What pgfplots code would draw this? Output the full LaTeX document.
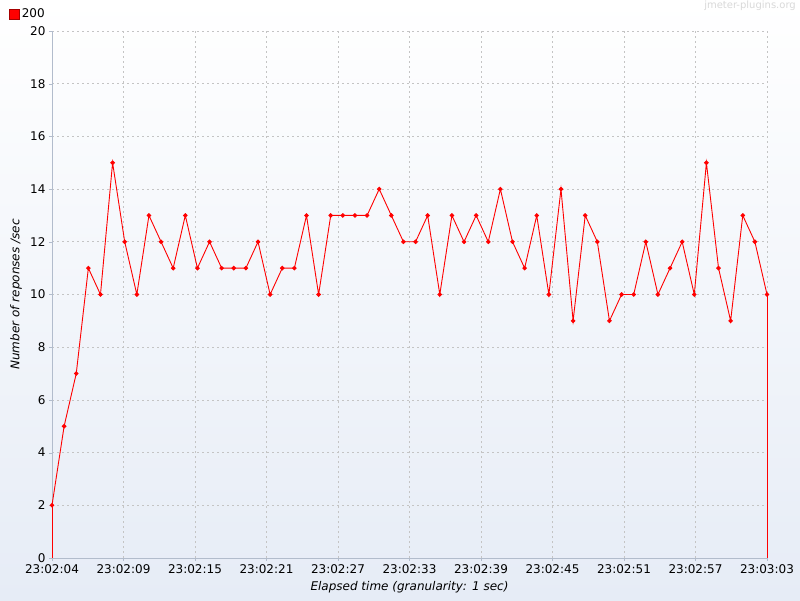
\documentclass[border=0pt]{standalone}
\usepackage{pgfplots}
\pgfplotsset{compat=1.18}
\usepackage{fontspec}
\setmainfont{DejaVu Sans}

\definecolor{bgbottom}{RGB}{230,236,246}
\definecolor{axisgray}{RGB}{178,188,204}
\definecolor{gridgray}{RGB}{196,196,196}
\definecolor{markred}{RGB}{255,0,0}

\begin{document}
\begin{tikzpicture}[x=1pt,y=1pt]
  \shade[top color=white, bottom color=bgbottom] (0,0) rectangle (800,600);
  \useasboundingbox (0,0) rectangle (800,600);
  \node[anchor=north east, inner sep=0pt, text=black!15,
        font=\fontsize{10}{12}\selectfont] at (796,599) {jmeter-plugins.org};
  \begin{axis}[
      at={(52pt,42pt)}, anchor=south west,
      scale only axis, width=715pt, height=527pt,
      xmin=0, xmax=59, ymin=0, ymax=20,
      axis x line=bottom, axis y line=left,
      axis line style={-, draw=axisgray, line width=0.8pt},
      tick align=outside, tick style={draw=axisgray, major tick length=3pt},
      xtick={0,5.9,11.8,17.7,23.6,29.5,35.4,41.3,47.2,53.1,59},
      xticklabels={23:02:04,23:02:09,23:02:15,23:02:21,23:02:27,23:02:33,
                   23:02:39,23:02:45,23:02:51,23:02:57,23:03:03},
      ytick={0,2,...,20},
      grid=major,
      major grid style={draw=gridgray, dash pattern=on 2pt off 3pt, line width=0.8pt},
      /pgf/number format/assume math mode=true,
      tick label style={font=\fontsize{12}{14}\selectfont},
      xlabel={Elapsed time (granularity: 1 sec)},
      ylabel={Number of reponses /sec},
      label style={font=\fontsize{12}{14}\selectfont\itshape},
      xlabel style={at={(axis description cs:0.5,-0.055)}, anchor=center},
      ylabel style={at={(axis description cs:-0.0503,0.5)}, anchor=center},
      clip=false,
      legend style={at={(axis description cs:-0.0601,1.0323)}, anchor=west,
                    draw=none, fill=none, inner sep=0pt,
                    font=\fontsize{12}{14}\selectfont,
                    nodes={inner sep=2pt}},
      legend image code/.code={%
        \draw[fill=red, draw=red!65!black, line width=0.6pt] (0pt,-5pt) rectangle (10pt,5pt);},
    ]
    \addplot[red, line width=0.9pt, mark=*, mark size=1.8pt,
             mark options={fill=markred, draw=markred}] coordinates {
      (0,2) (1,5) (2,7) (3,11) (4,10) (5,15) (6,12) (7,10) (8,13) (9,12)
      (10,11) (11,13) (12,11) (13,12) (14,11) (15,11) (16,11) (17,12) (18,10) (19,11)
      (20,11) (21,13) (22,10) (23,13) (24,13) (25,13) (26,13) (27,14) (28,13) (29,12)
      (30,12) (31,13) (32,10) (33,13) (34,12) (35,13) (36,12) (37,14) (38,12) (39,11)
      (40,13) (41,10) (42,14) (43,9) (44,13) (45,12) (46,9) (47,10) (48,10) (49,12)
      (50,10) (51,11) (52,12) (53,10) (54,15) (55,11) (56,9) (57,13) (58,12) (59,10)
    };
    \addlegendentry{200}
    \addplot[red, line width=0.9pt, forget plot] coordinates {(0,0) (0,2)};
    \addplot[red, line width=0.9pt, forget plot] coordinates {(59,10) (59,0)};
  \end{axis}
\end{tikzpicture}
\end{document}
